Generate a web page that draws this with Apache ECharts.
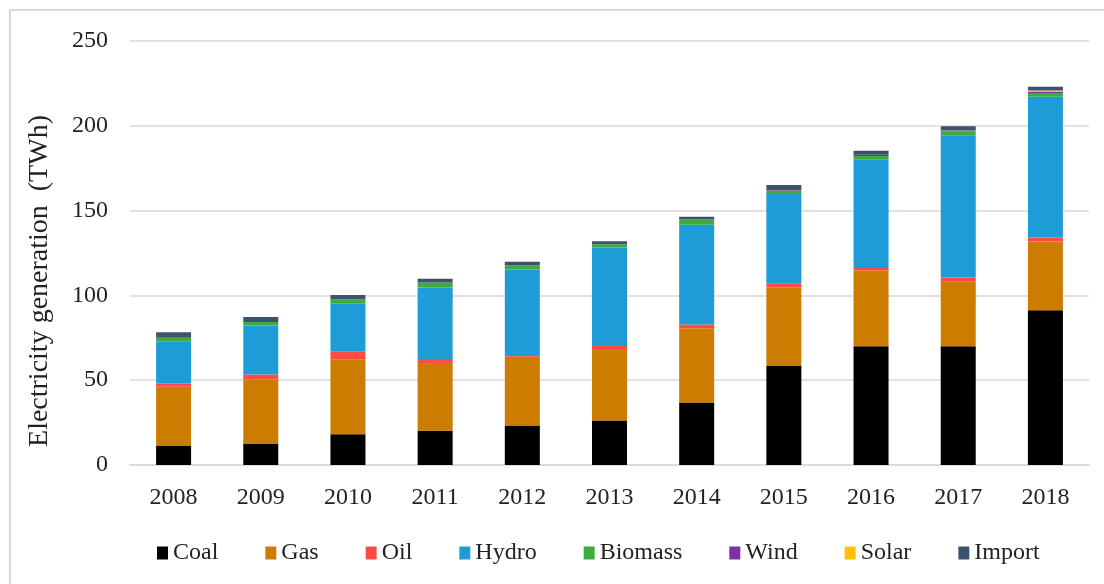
<!DOCTYPE html>
<html>
<head>
<meta charset="utf-8">
<title>Electricity generation</title>
<script src="https://cdn.jsdelivr.net/npm/echarts@6/dist/echarts.min.js"></script>
<style>
	html, body { margin: 0; padding: 0; background: #ffffff; }
	#mainChart { width: 1104px; height: 584px; }
</style>
</head>
<body>
<div id="mainChart"></div>
<script>
	// values, TWh
	var years = ['2008', '2009', '2010', '2011', '2012', '2013', '2014', '2015', '2016', '2017', '2018'];
	var coal = [11.2, 12.7, 18.2, 20.2, 23.3, 26.3, 36.9, 58.6, 70.0, 70.0, 91.2];
	var gas = [34.9, 37.7, 44.2, 40.0, 40.6, 42.1, 43.7, 46.1, 44.7, 38.4, 40.6];
	var oil = [1.9, 2.9, 4.7, 2.3, 0.3, 2.4, 2.2, 2.2, 1.4, 2.2, 2.3];
	var hydro = [25.0, 28.9, 28.0, 42.2, 51.1, 57.4, 58.9, 52.9, 63.9, 83.9, 83.1];
	var biomass = [2.1, 2.1, 2.7, 2.9, 2.3, 2.0, 2.9, 2.1, 2.2, 2.2, 2.2];
	var wind = [0, 0, 0, 0, 0, 0, 0.2, 0.8, 0.8, 0.4, 0.6];
	var solar = [0, 0, 0, 0, 0, 0, 0, 0, 0, 0.1, 0.8];
	var imports = [3.1, 3.0, 2.4, 2.2, 2.2, 1.7, 1.6, 2.4, 2.3, 2.5, 2.2];
	var yTicks = [0, 50, 100, 150, 200, 250];

	var seriesNames = ['Coal', 'Gas', 'Oil', 'Hydro', 'Biomass', 'Wind', 'Solar', 'Import'];
	var seriesData = [coal, gas, oil, hydro, biomass, wind, solar, imports];
	var colors = ['#000000', '#cc7c00', '#ff4b44', '#1e9cd8', '#3eab3c', '#7f2fa6', '#ffc000', '#3c5270'];

	var font = 'Liberation Serif';

	function buildSeries() {
		var list = [];
		for (var i = 0; i < seriesNames.length; i++) {
			list.push({
				name : seriesNames[i],
				type : 'bar',
				stack : 'total',
				barWidth : 35,
				data : seriesData[i],
				itemStyle : { color : colors[i] }
			});
		}
		return list;
	}

	var myChart = echarts.init(document.getElementById('mainChart'));
	var option = {
		backgroundColor : '#ffffff',
		animation : false,
		textStyle : { fontFamily : font, color : '#222222' },
		graphic : [ {
			type : 'rect',
			shape : { x : 10, y : 10, width : 1110, height : 600 },
			style : { fill : 'none', stroke : '#d9d9d9', lineWidth : 2 }
		} ],
		grid : {
			left : 130,
			right : 15,
			top : 41,
			bottom : 119
		},
		legend : {
			data : seriesNames,
			left : 152,
			top : 536,
			itemWidth : 11,
			itemHeight : 13,
			itemGap : 47,
			icon : 'rect',
			textStyle : { fontFamily : font, fontSize : 24, color : '#222222' }
		},
		xAxis : {
			type : 'category',
			data : years,
			axisTick : { show : false },
			axisLine : { lineStyle : { color : '#d9d9d9', width : 1.5 } },
			axisLabel : { fontFamily : font, fontSize : 24, color : '#222222', margin : 21 }
		},
		yAxis : {
			type : 'value',
			min : yTicks[0],
			max : yTicks[yTicks.length - 1],
			interval : 50,
			name : 'Electricity generation  (TWh)',
			nameLocation : 'middle',
			nameRotate : 90,
			nameGap : 76,
			nameTextStyle : { fontFamily : font, fontSize : 28, color : '#222222', padding : [0, 56, 0, 0] },
			axisLine : { show : false },
			axisTick : { show : false },
			axisLabel : { fontFamily : font, fontSize : 24, color : '#222222', margin : 22 },
			splitLine : { lineStyle : { color : '#d9d9d9', width : 1.5 } }
		},
		series : buildSeries()
	};
	myChart.setOption(option, true);
</script>
</body>
</html>
